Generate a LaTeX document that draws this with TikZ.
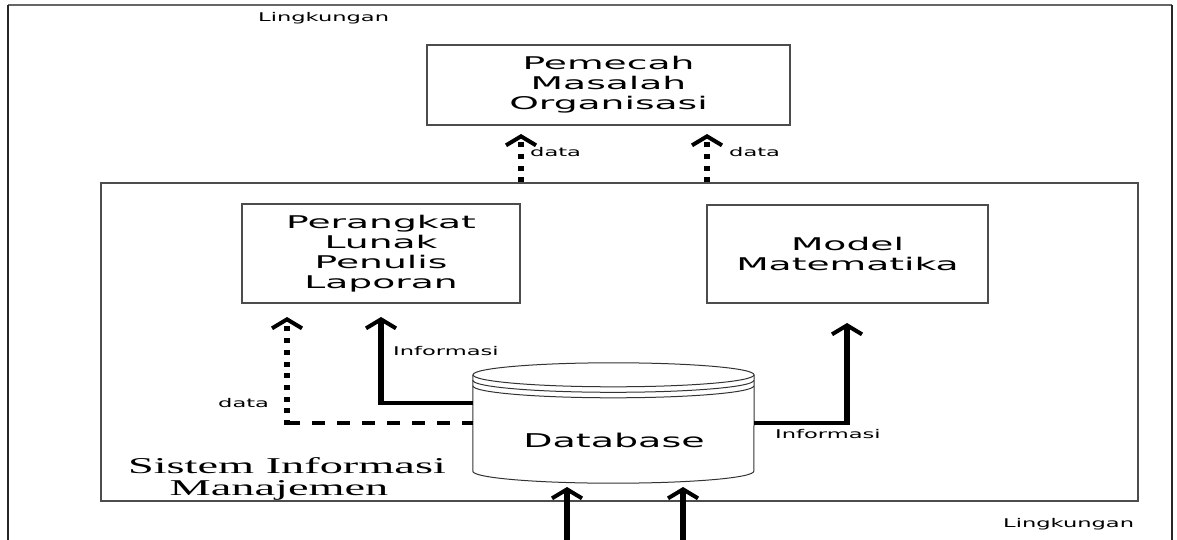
\documentclass[tikz,border=0pt]{standalone}
\usepackage{fontspec}
\usetikzlibrary{arrows.meta}
\newfontfamily\boxfont[FakeStretch=2.15]{DejaVu Sans}
\newfontfamily\dbfont[FakeStretch=2.0]{DejaVu Sans}
\newfontfamily\labelfont[FakeStretch=1.88]{DejaVu Sans}
\newfontfamily\titlefont[FakeStretch=2.05]{Liberation Serif}
\begin{document}
\begin{tikzpicture}[x=1pt,y=1pt,
  framebox/.style={draw=black!70, line width=1.1pt, inner sep=0pt, align=center,
    font=\boxfont\fontsize{17.5}{20}\selectfont},
  tag/.style={inner sep=0pt, anchor=base west, font=\labelfont\fontsize{12}{14}\selectfont},
  barb/.tip={Straight Barb[length=9pt,width=30pt,line width=4pt]},
  flowarrow/.style={line width=5.5pt, -barb},
  dotarrow/.style={line width=6pt, dash pattern=on 5pt off 6.7pt, -barb},
  solidlink/.style={line width=3.8pt},
  dashlink/.style={line width=4pt, dash pattern=on 13pt off 12pt},
  cyl/.style={draw=black!80, line width=1pt}]
\useasboundingbox (0,0) rectangle (1177,539);
\clip (0,0) rectangle (1177,539);

% environment frame, open at the bottom
\draw[black!60, line width=1.3pt] (8,534) -- (1172,534);
\draw[black!85, line width=2.5pt] (8,534) -- (8,-10);
\draw[black!85, line width=2.5pt] (1172,534) -- (1172,-10);
\node[tag] (envtop) at (258,517) {Lingkungan};
\node[tag] (envbot) at (1003,12) {Lingkungan};

% boxes
\node[framebox, minimum width=363pt, minimum height=80pt] (pm) at (608.5,454)
  {Pemecah\\Masalah\\Organisasi};
\node[draw=black!70, line width=1.1pt, minimum width=1037pt, minimum height=318pt] (sim) at (619.5,197) {};
\node[framebox, minimum width=278pt, minimum height=99pt] (pl) at (381,285.5)
  {Perangkat\\Lunak\\Penulis\\Laporan};
\node[framebox, minimum width=281pt, minimum height=98pt] (mm) at (847.5,285)
  {Model\\Matematika};

% system title
\node[inner sep=0pt, anchor=base, font=\titlefont\fontsize{22.6}{22}\selectfont] (simt1) at (287,66) {Sistem Informasi};
\node[inner sep=0pt, anchor=base, font=\titlefont\fontsize{22.6}{22}\selectfont] (simt2) at (279,44) {Manajemen};

% database cylinder
\node[minimum width=281pt, minimum height=96pt, inner sep=0pt] (db) at (613.5,116) {};
\fill[white] (db.south west) arc[start angle=180, end angle=360, x radius=140.5pt, y radius=12pt]
  -- (db.north east) -- (db.north west) -- cycle;
\draw[cyl] (db.north west) -- (db.south west)
  arc[start angle=180, end angle=360, x radius=140.5pt, y radius=12pt] -- (db.north east);
\draw[cyl] (db.north) ellipse[x radius=140.5pt, y radius=12pt];
\draw[cyl] ([yshift=-5.5pt]db.north west) arc[start angle=180, end angle=360, x radius=140.5pt, y radius=12pt];
\draw[cyl] ([yshift=-11pt]db.north west) arc[start angle=180, end angle=360, x radius=140.5pt, y radius=12pt];
\node[inner sep=0pt, font=\dbfont\fontsize{19}{22}\selectfont] (dbt) at (614,99) {Database};

% database to report writer: information
\coordinate (j1) at (381,136);
\coordinate (t1) at (381,222);
\draw[solidlink] (db.west |- j1) -- (j1);
\draw[flowarrow] ([yshift=-1.9pt]j1) -- (t1);
\node[tag] (inf1) at (393,184) {Informasi};

% database to report writer: data
\coordinate (j2) at (287,116);
\coordinate (t2) at (287,222);
\draw[dashlink] (j2) -- (db.west |- j2);
\draw[dotarrow] ([yshift=-2pt]j2) -- (t2);
\node[tag] (dat1) at (218,132) {data};

% database to mathematical model
\coordinate (j3) at (847,116);
\coordinate (t3) at (847,216);
\draw[solidlink] (db.east |- j3) -- (j3);
\draw[flowarrow] ([yshift=-1.9pt]j3) -- (t3);
\node[tag] (inf2) at (775,101) {Informasi};

% system to problem solvers
\coordinate (t4) at (521,405);
\coordinate (t5) at (707,405);
\draw[dotarrow] (sim.north -| t4) -- (t4);
\draw[dotarrow] (sim.north -| t5) -- (t5);
\node[tag] (dat2) at (530,382) {data};
\node[tag] (dat3) at (729,382) {data};

% inputs from the environment
\coordinate (b1) at (567,-10);
\coordinate (b2) at (683,-10);
\draw[flowarrow] (b1) -- (b1 |- 0,52);
\draw[flowarrow] (b2) -- (b2 |- 0,52);
\end{tikzpicture}
\end{document}
